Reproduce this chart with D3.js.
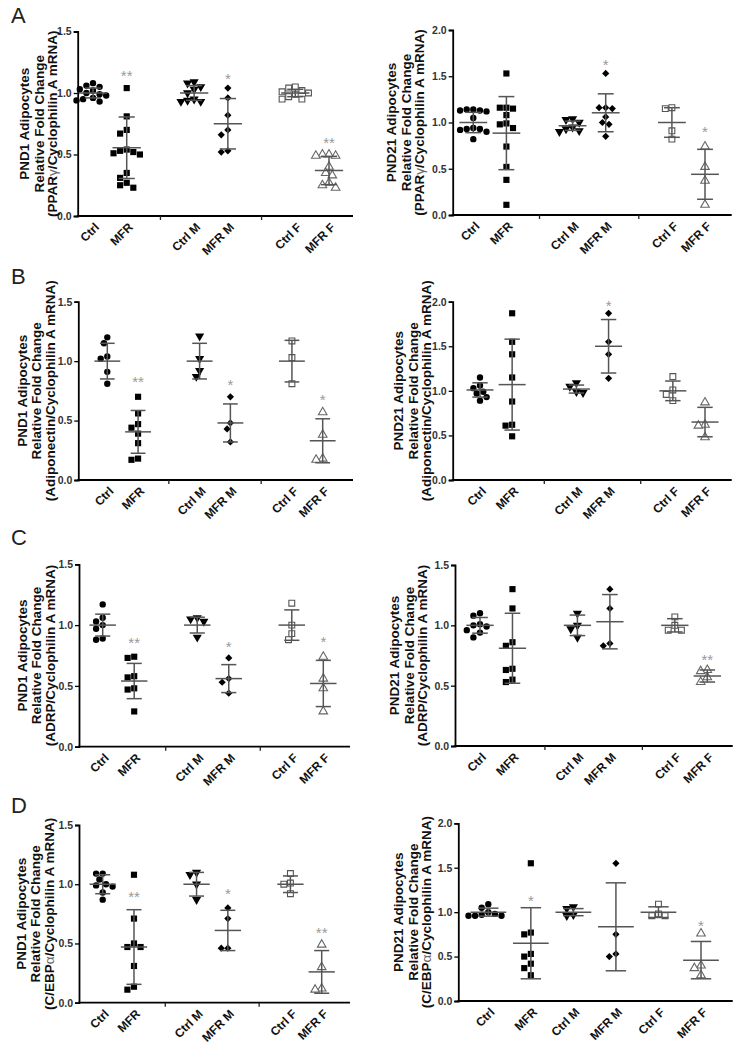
<!DOCTYPE html>
<html>
<head>
<meta charset="utf-8">
<script src="https://cdn.jsdelivr.net/npm/d3@7"></script>
<style>
body { margin: 0; background: #fff; }
svg { display: block; }
text { font-family: "Liberation Sans", Arial, sans-serif; }
</style>
</head>
<body>
<script>
// groups and tick values
var groups = ['Ctrl', 'MFR', 'Ctrl M', 'MFR M', 'Ctrl F', 'MFR F'];
var gapDomain = ['Ctrl', 'MFR', 'gap1', 'Ctrl M', 'MFR M', 'gap2', 'Ctrl F', 'MFR F'];
var ticks15 = [0, 0.5, 1.0, 1.5];
var ticks20 = [0, 0.5, 1.0, 1.5, 2.0];
var letters = ['A', 'B', 'C', 'D'];
var genes = ['PPARγ', 'Adiponectin', 'ADRP', 'C/EBPα'];

// A - PND1 PPARg
var aLPts = [
  [1.08, 1.06, 1.05, 1.03, 1.02, 1.00, 0.99, 0.98, 0.96, 0.95, 0.94, 0.93],
  [1.04, 0.81, 0.70, 0.67, 0.54, 0.53, 0.52, 0.51, 0.50, 0.35, 0.31, 0.27, 0.25, 0.23],
  [1.09, 1.08, 1.05, 1.03, 1.00, 0.95, 0.94, 0.93, 0.93],
  [1.04, 0.96, 0.82, 0.70, 0.66, 0.53, 0.52],
  [1.05, 1.04, 1.02, 1.01, 1.00, 0.99, 0.97, 0.95, 0.95],
  [0.50, 0.50, 0.49, 0.49, 0.40, 0.35, 0.33, 0.27, 0.25, 0.23]
];
var aLMean = [1.0, 0.555, 1.0, 0.75, 1.0, 0.37];
var aLSd = [0.04, 0.25, 0.06, 0.205, 0.03, 0.115];
var aLStars = ['', '**', '', '*', '', '**'];
var aLStarY = [0, 1.17, 0, 1.14, 0, 0.62];

// A - PND21 PPARg
var aRPts = [
  [1.14, 1.14, 1.13, 1.13, 1.12, 1.05, 0.94, 0.93, 0.93, 0.92, 0.90, 0.82],
  [1.53, 1.16, 1.16, 1.15, 1.08, 0.99, 0.98, 0.94, 0.74, 0.52, 0.38, 0.11],
  [1.04, 1.03, 1.00, 0.95, 0.93, 0.91, 0.90],
  [1.53, 1.16, 1.16, 1.15, 1.06, 1.00, 0.98, 0.85],
  [1.16, 1.15, 0.91, 0.82],
  [0.74, 0.52, 0.37, 0.11]
];
var aRMean = [1.0, 0.885, 0.965, 1.105, 1.0, 0.44];
var aRSd = [0.11, 0.395, 0.05, 0.205, 0.16, 0.27];
var aRStars = ['', '', '', '*', '', '*'];
var aRStarY = [0, 0, 0, 1.66, 0, 0.94];

// B - PND1 Adiponectin
var bLPts = [
  [1.20, 1.15, 1.04, 1.02, 0.91, 0.81],
  [0.70, 0.56, 0.47, 0.44, 0.39, 0.31, 0.18, 0.17],
  [1.21, 1.02, 0.92, 0.87],
  [0.70, 0.48, 0.43, 0.32],
  [1.17, 1.03, 0.81],
  [0.57, 0.38, 0.18, 0.17]
];
var bLMean = [1.0, 0.405, 1.0, 0.48, 1.0, 0.33];
var bLSd = [0.15, 0.18, 0.15, 0.16, 0.175, 0.185];
var bLStars = ['', '**', '', '*', '', '*'];
var bLStarY = [0, 0.855, 0, 0.83, 0, 0.70];

// B - PND21 Adiponectin
var bRPts = [
  [1.15, 1.06, 1.03, 0.99, 0.97, 0.93, 0.89],
  [1.87, 1.55, 1.41, 1.15, 0.88, 0.62, 0.61, 0.49],
  [1.09, 1.05, 0.99, 0.98],
  [1.87, 1.55, 1.41, 1.14],
  [1.16, 1.01, 0.96, 0.89],
  [0.87, 0.62, 0.61, 0.48]
];
var bRMean = [1.01, 1.07, 1.02, 1.50, 1.00, 0.65];
var bRSd = [0.08, 0.51, 0.045, 0.30, 0.11, 0.165];
var bRStars = ['', '', '', '*', '', ''];
var bRStarY = [0, 0, 0, 1.99, 0, 0];

// C - PND1 ADRP
var cLPts = [
  [1.17, 1.06, 1.03, 1.00, 0.97, 0.89, 0.88],
  [0.74, 0.73, 0.58, 0.57, 0.48, 0.47, 0.29],
  [1.06, 1.05, 1.03, 0.90],
  [0.73, 0.56, 0.53, 0.44],
  [1.18, 1.00, 0.93, 0.88],
  [0.74, 0.56, 0.48, 0.29]
];
var cLMean = [1.0, 0.54, 1.0, 0.56, 1.0, 0.52];
var cLSd = [0.09, 0.145, 0.065, 0.115, 0.125, 0.19];
var cLStars = ['', '**', '', '*', '', '*'];
var cLStarY = [0, 0.88, 0, 0.845, 0, 0.89];

// C - PND21 ADRP
var cRPts = [
  [1.10, 1.08, 1.01, 1.00, 0.99, 0.96, 0.94, 0.90],
  [1.30, 1.14, 0.86, 0.83, 0.64, 0.63, 0.55, 0.53],
  [1.10, 1.00, 0.97, 0.90],
  [1.30, 1.14, 0.85, 0.83],
  [1.07, 1.00, 0.96, 0.96],
  [0.63, 0.62, 0.57, 0.53]
];
var cRMean = [1.0, 0.81, 1.0, 1.03, 1.0, 0.58];
var cRSd = [0.065, 0.29, 0.085, 0.225, 0.055, 0.05];
var cRStars = ['', '', '', '', '', '**'];
var cRStarY = [0, 0, 0, 0, 0, 0.745];

// D - PND1 C/EBPa
var dLPts = [
  [1.09, 1.09, 1.04, 1.00, 0.99, 0.98, 0.93, 0.87],
  [1.08, 0.71, 0.50, 0.47, 0.47, 0.31, 0.135, 0.11],
  [1.10, 1.08, 1.00, 0.87],
  [0.80, 0.71, 0.46, 0.46],
  [1.09, 1.01, 1.00, 0.92],
  [0.49, 0.30, 0.12, 0.11]
];
var dLMean = [1.0, 0.47, 1.0, 0.61, 1.0, 0.26];
var dLSd = [0.08, 0.315, 0.10, 0.17, 0.07, 0.18];
var dLStars = ['', '**', '', '*', '', '**'];
var dLStarY = [0, 0.92, 0, 0.95, 0, 0.62];

// D - PND21 C/EBPa
var dRPts = [
  [1.09, 1.05, 1.00, 0.98, 0.97, 0.96, 0.96, 0.96],
  [1.55, 0.77, 0.75, 0.53, 0.50, 0.42, 0.37, 0.29],
  [1.06, 1.04, 0.97, 0.96],
  [1.55, 0.75, 0.53, 0.50],
  [1.09, 0.98, 0.96, 0.96],
  [0.76, 0.40, 0.37, 0.29]
];
var dRMean = [1.0, 0.65, 1.0, 0.835, 1.0, 0.46];
var dRSd = [0.045, 0.40, 0.04, 0.495, 0.06, 0.21];
var dRStars = ['', '*', '', '', '', '*'];
var dRStarY = [0, 1.17, 0, 0, 0, 0.88];

// layout table
var panels = [
  {pts: aLPts, mean: aLMean, sd: aLSd, stars: aLStars, starY: aLStarY, age: 'PND1', gene: 0, ticks: ticks15, gaps: true,
   ax: 77.7, axEnd: 353, y0: 216, yTop: 31.5, xFirst: 93, xLast: 329, titleX: 39},
  {pts: aRPts, mean: aRMean, sd: aRSd, stars: aRStars, starY: aRStarY, age: 'PND21', gene: 0, ticks: ticks20, gaps: true,
   ax: 452.7, axEnd: 731.7, y0: 215, yTop: 30, xFirst: 473.3, xLast: 705, titleX: 406},
  {pts: bLPts, mean: bLMean, sd: bLSd, stars: bLStars, starY: bLStarY, age: 'PND1', gene: 1, ticks: ticks15, gaps: true,
   ax: 78.3, axEnd: 353, y0: 480, yTop: 301.7, xFirst: 107.3, xLast: 322.7, titleX: 36.5},
  {pts: bRPts, mean: bRMean, sd: bRSd, stars: bRStars, starY: bRStarY, age: 'PND21', gene: 1, ticks: ticks20, gaps: true,
   ax: 452.7, axEnd: 731.7, y0: 480, yTop: 301.7, xFirst: 480, xLast: 705, titleX: 413},
  {pts: cLPts, mean: cLMean, sd: cLSd, stars: cLStars, starY: cLStarY, age: 'PND1', gene: 2, ticks: ticks15, gaps: true,
   ax: 79, axEnd: 350, y0: 746.7, yTop: 564.3, xFirst: 102.7, xLast: 323.3, titleX: 36.5},
  {pts: cRPts, mean: cRMean, sd: cRSd, stars: cRStars, starY: cRStarY, age: 'PND21', gene: 2, ticks: ticks15, gaps: true,
   ax: 455, axEnd: 732.7, y0: 746, yTop: 565, xFirst: 480, xLast: 707.3, titleX: 409},
  {pts: dLPts, mean: dLMean, sd: dLSd, stars: dLStars, starY: dLStarY, age: 'PND1', gene: 3, ticks: ticks15, gaps: true,
   ax: 79, axEnd: 350, y0: 1002.7, yTop: 825, xFirst: 102.7, xLast: 321.7, titleX: 35.5},
  {pts: dRPts, mean: dRMean, sd: dRSd, stars: dRStars, starY: dRStarY, age: 'PND21', gene: 3, ticks: ticks20, gaps: false,
   ax: 458.3, axEnd: 732.7, y0: 1001, yTop: 823.3, xFirst: 488.3, xLast: 701, titleX: 413}
];
var letterY = [23, 284, 545, 813];

var svg = d3.select('body').append('svg')
            .attr('width', 740)
            .attr('height', 1050);

svg.append('rect').attr('width', 740).attr('height', 1050).attr('fill', '#fff');

var markers = [
  {type: d3.symbolCircle, size: 32, fill: '#000', stroke: 'none', rot: 0},
  {type: d3.symbolSquare, size: 38, fill: '#000', stroke: 'none', rot: 0},
  {type: d3.symbolTriangle, size: 36, fill: '#000', stroke: 'none', rot: 180},
  {type: d3.symbolSquare, size: 26, fill: '#000', stroke: 'none', rot: 45},
  {type: d3.symbolSquare, size: 34, fill: '#fff', stroke: '#555', rot: 0},
  {type: d3.symbolTriangle, size: 32, fill: '#fff', stroke: '#666', rot: 0}
];

// spread points sideways so they don't overlap, like a column scatter
function swarm(vals, y, d) {
  var placed = [];
  return vals.map(function(v) {
    var py = y(v);
    var off = 0;
    for (var k = 0; k < 60; k++) {
      var c = (k % 2 ? -1 : 1) * Math.ceil(k / 2) * d / 2;
      var ok = placed.every(function(p) {
        var dx = p[0] - c, dy = p[1] - py;
        return dx * dx + dy * dy >= d * d * 0.9;
      });
      if (ok) { off = c; break; }
    }
    placed.push([off, py]);
    return off;
  });
}

function drawPanel(p, i) {
  var g = svg.append('g');
  var yMax = p.ticks[p.ticks.length - 1];
  var y = d3.scaleLinear().domain([0, yMax]).range([p.y0, p.yTop]);
  var x = d3.scalePoint().domain(p.gaps ? gapDomain : groups).range([p.xFirst, p.xLast]);
  var step = x.step();

  // y axis
  var yAxis = g.append('g')
    .attr('transform', `translate(${p.ax},0)`)
    .call(d3.axisLeft(y).tickValues(p.ticks).tickFormat(d3.format('.1f')).tickSizeOuter(0).tickSize(4).tickPadding(2));
  yAxis.select('.domain').attr('stroke', '#000').attr('stroke-width', 1.8);
  yAxis.selectAll('.tick line').attr('stroke', '#000').attr('stroke-width', 1.3);
  yAxis.selectAll('.tick text')
    .attr('font-family', '"Liberation Sans", Arial, sans-serif')
    .attr('font-size', 10.5).attr('font-weight', 'bold').attr('fill', '#333');

  // x axis: line from y axis to end, small ticks at the group gaps
  g.append('line')
    .attr('x1', p.ax - 0.9).attr('x2', p.axEnd)
    .attr('y1', p.y0).attr('y2', p.y0)
    .attr('stroke', '#000').attr('stroke-width', 1.8);
  if (p.gaps) {
    g.selectAll('.gap').data(['gap1', 'gap2']).enter().append('line')
      .attr('x1', d => x(d)).attr('x2', d => x(d))
      .attr('y1', p.y0).attr('y2', p.y0 + 4)
      .attr('stroke', '#222').attr('stroke-width', 1.3);
  }

  g.selectAll('.xlab').data(groups).enter().append('text')
    .attr('transform', d => `translate(${x(d) + 4},${p.y0 + 9}) rotate(-45)`)
    .attr('text-anchor', 'end')
    .attr('dy', '0.35em')
    .attr('font-size', 12).attr('font-weight', 'bold').attr('fill', '#111')
    .text(d => d);

  // points
  groups.forEach(function(grp, gi) {
    var m = markers[gi];
    var offs = swarm(p.pts[gi], y, 6.6);
    g.append('g').selectAll('path').data(p.pts[gi]).enter().append('path')
      .attr('d', d3.symbol().type(m.type).size(m.size))
      .attr('transform', (d, k) => `translate(${x(grp) + offs[k]},${y(d)}) rotate(${m.rot})`)
      .attr('fill', m.fill)
      .attr('stroke', m.stroke)
      .attr('stroke-width', 1.1);
  });

  // mean and SD
  var mw = step * 0.42, cw = step * 0.24;
  groups.forEach(function(grp, gi) {
    var cx = x(grp), mu = p.mean[gi], s = p.sd[gi];
    var eg = g.append('g').attr('stroke', '#555').attr('stroke-width', 1.5);
    eg.append('line').attr('x1', cx).attr('x2', cx).attr('y1', y(mu - s)).attr('y2', y(mu + s));
    eg.append('line').attr('x1', cx - cw).attr('x2', cx + cw).attr('y1', y(mu - s)).attr('y2', y(mu - s));
    eg.append('line').attr('x1', cx - cw).attr('x2', cx + cw).attr('y1', y(mu + s)).attr('y2', y(mu + s));
    eg.append('line').attr('x1', cx - mw).attr('x2', cx + mw).attr('y1', y(mu)).attr('y2', y(mu));
    if (p.stars[gi]) {
      g.append('text')
        .attr('x', cx).attr('y', y(p.starY[gi]) + 8.5)
        .attr('text-anchor', 'middle')
        .attr('font-size', 15).attr('fill', '#999')
        .text(p.stars[gi]);
    }
  });

  // y title
  var t = g.append('text')
    .attr('transform', `translate(${p.titleX},${(p.y0 + p.yTop) / 2}) rotate(-90)`)
    .attr('text-anchor', 'middle')
    .attr('font-size', 13.5).attr('font-weight', 'bold').attr('fill', '#111');
  t.append('tspan').attr('x', 0).attr('y', -10).text(p.age + ' Adipocytes');
  t.append('tspan').attr('x', 0).attr('y', 4.5).text('Relative Fold Change');
  var l3 = t.append('tspan').attr('x', 0).attr('y', 18);
  var gene = genes[p.gene];
  var last = gene.slice(-1);
  if (last === 'γ' || last === 'α') {
    l3.append('tspan').text('(' + gene.slice(0, -1));
    l3.append('tspan').attr('font-weight', 'normal').attr('fill', '#666').text(last);
    l3.append('tspan').text('/Cyclophilin A mRNA)');
  } else {
    l3.text('(' + gene + '/Cyclophilin A mRNA)');
  }

  if (i % 2 === 0) {
    svg.append('text')
      .attr('x', 11).attr('y', letterY[i / 2])
      .attr('font-family', '"Open Sans", sans-serif')
      .attr('font-size', 22).attr('fill', '#222')
      .text(letters[i / 2]);
  }
}

panels.forEach(drawPanel);
</script>
</body>
</html>
